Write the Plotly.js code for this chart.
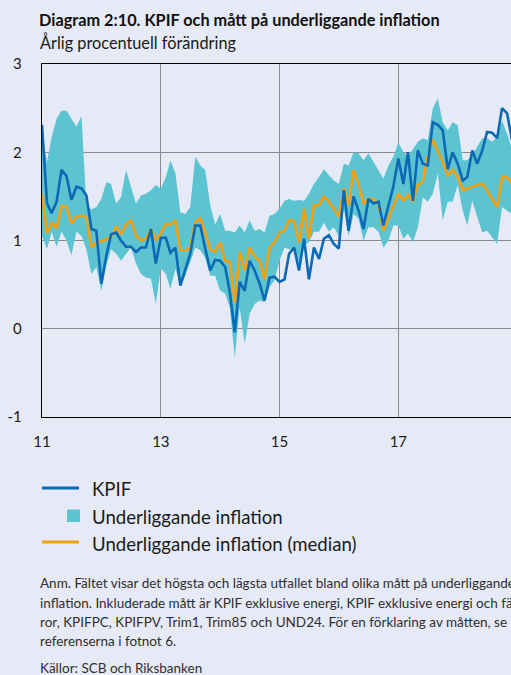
<!DOCTYPE html>
<html>
<head>
<meta charset="utf-8">
<script src="https://cdn.plot.ly/plotly-3.0.1.min.js"></script>
<style>
html, body { margin:0; padding:0; background:#e6eaf6; overflow:hidden; width:511px; height:675px; }
#chart { width:600px; height:675px; }
</style>
</head>
<body>
<div id="chart"></div>
<script>
// ---------- DATA (monthly, Jan 2011 onward) ----------
const startYear = 2011;
const kpif = [2.31,1.42,1.31,1.44,1.80,1.73,1.46,1.61,1.59,1.51,1.13,1.11,
  0.51,0.83,1.07,1.09,1.00,0.93,0.93,0.87,0.92,0.92,1.13,0.74,
  1.03,1.03,0.86,0.92,0.49,0.66,0.85,1.17,1.17,0.91,0.66,0.78,
  0.77,0.70,0.42,-0.04,0.53,0.43,0.77,0.66,0.51,0.32,0.58,0.59,
  0.53,0.56,0.85,0.92,0.66,1.02,0.56,0.92,0.79,1.02,1.06,0.96,
  0.91,1.57,1.11,1.50,1.34,1.13,1.47,1.42,1.44,1.17,1.40,1.61,
  1.93,1.64,2.00,1.45,2.02,1.87,1.85,2.34,2.31,2.25,1.81,2.00,
  1.87,1.68,1.72,2.02,1.87,2.02,2.23,2.22,2.16,2.50,2.44,2.14];
const median = [1.53,1.08,1.20,1.14,1.39,1.38,1.19,1.27,1.28,1.27,0.92,0.98,
  0.99,1.02,1.04,1.16,1.07,1.18,1.23,1.06,1.00,1.02,1.13,1.01,
  1.08,1.19,1.18,1.23,0.89,0.89,0.92,1.21,1.25,1.09,0.90,0.87,
  0.98,0.77,0.76,0.30,0.87,0.66,0.92,0.82,0.77,0.56,0.92,0.98,
  1.09,1.11,1.23,1.22,0.98,1.36,1.02,1.40,1.40,1.50,1.44,1.36,
  1.27,1.59,1.40,1.80,1.64,1.42,1.47,1.47,1.42,1.11,1.25,1.38,
  1.53,1.45,1.52,1.44,1.63,1.66,1.95,2.14,2.02,1.89,1.74,1.80,
  1.72,1.57,1.59,1.61,1.63,1.64,1.57,1.47,1.38,1.72,1.72,1.64];
const upper = [2.25,1.89,2.17,2.38,2.47,2.47,2.38,2.29,2.41,1.40,1.35,1.38,
  1.47,1.66,1.64,1.42,1.49,1.80,1.61,1.42,1.51,1.53,1.57,1.63,
  1.59,1.72,1.91,1.76,1.32,1.30,1.38,1.95,1.85,1.80,1.40,1.18,
  1.30,1.11,1.11,1.09,1.17,1.09,1.23,1.11,1.13,1.09,1.28,1.30,
  1.36,1.45,1.47,1.45,1.46,1.45,1.53,1.64,1.72,1.81,1.74,1.68,
  1.64,1.87,1.85,2.00,1.99,1.91,1.99,1.89,1.78,1.70,1.85,1.95,
  2.11,2.00,1.95,2.04,2.12,2.16,2.14,2.50,2.61,2.34,2.25,2.34,
  2.31,1.91,1.91,1.97,2.06,2.16,2.16,2.12,2.17,2.36,2.21,2.04];
const lower = [1.05,0.90,1.10,0.93,1.10,1.00,0.83,1.10,1.05,0.90,0.62,0.70,
  0.43,0.72,0.90,0.85,0.77,0.85,0.92,0.74,0.62,0.58,0.57,0.28,
  0.68,0.62,0.45,0.68,0.49,0.60,0.77,0.92,0.89,0.80,0.60,0.60,
  0.43,0.40,0.24,-0.33,0.24,-0.17,0.17,0.28,0.32,0.30,0.47,0.55,
  0.77,0.92,0.90,0.90,0.75,0.95,0.98,1.10,1.10,1.20,1.10,1.15,
  1.05,1.35,1.05,1.30,1.25,1.00,1.15,1.15,1.10,0.92,1.00,1.17,
  1.17,1.02,1.08,0.98,1.15,1.49,1.44,1.53,1.76,1.23,1.44,1.44,
  1.63,1.34,1.17,1.45,1.27,1.09,1.11,1.04,0.96,1.38,1.34,1.30];
const tickYears = [2011, 2013, 2015, 2017];
const tickLabels = ['11', '13', '15', '17'];
const rangeEndYear = 2019;
const yTicks = [-1, 0, 1, 2, 3];
const seriesNames = ['KPIF', 'Underliggande inflation', 'Underliggande inflation (median)'];
const titleText = 'Diagram 2:10. KPIF och mått på underliggande inflation';
const subtitleText = 'Årlig procentuell förändring';
const noteLines = [
  'Anm. Fältet visar det högsta och lägsta utfallet bland olika mått på underliggande',
  'inflation. Inkluderade mått är KPIF exklusive energi, KPIF exklusive energi och färskva-',
  'ror, KPIFPC, KPIFPV, Trim1, Trim85 och UND24. För en förklaring av måtten, se',
  'referenserna i fotnot 6.'
];
const sourceText = 'Källor: SCB och Riksbanken';

// ---------- STYLE / GEOMETRY ----------
const FONT = 'Lato, "Open Sans", sans-serif';
const BG = '#e6eaf6';
const BLUE = '#0a6ab4';
const CYAN = '#5cc3d1';
const ORANGE = '#f5a00f';
const FIG_W = 600, FIG_H = 675;
const L = 42, R = 517, T = 64, B = 417;
const PW = R - L, PH = B - T;
const px = p => (p - L) / PW;
const py = p => (B - p) / PH;

const dates = kpif.map((_, i) => {
  const y = startYear + Math.floor(i / 12);
  const m = (i % 12) + 1;
  return y + '-' + String(m).padStart(2, '0') + '-01';
});

const traces = [
  { x: dates, y: lower, type: 'scatter', mode: 'lines', line: { width: 0, color: CYAN },
    hoverinfo: 'skip', showlegend: false },
  { x: dates, y: upper, type: 'scatter', mode: 'lines', fill: 'tonexty', fillcolor: CYAN,
    line: { width: 0, color: CYAN }, name: seriesNames[1], showlegend: false },
  { x: dates, y: median, type: 'scatter', mode: 'lines', line: { width: 2.6, color: ORANGE },
    name: seriesNames[2], showlegend: false },
  { x: dates, y: kpif, type: 'scatter', mode: 'lines', line: { width: 2.6, color: BLUE },
    name: seriesNames[0], showlegend: false }
];

const annotations = [
  { text: subtitleText, xref: 'paper', yref: 'paper', x: px(39), y: py(42), xanchor: 'left', yanchor: 'middle',
    showarrow: false, borderpad: 0, font: { family: FONT, size: 16.3, color: '#1a1a1a' } },
  { text: seriesNames[0], xref: 'paper', yref: 'paper', x: px(91), y: py(489.5), xanchor: 'left', yanchor: 'middle',
    showarrow: false, borderpad: 0, font: { family: FONT, size: 18.6, color: '#1a1a1a' } },
  { text: seriesNames[1], xref: 'paper', yref: 'paper', x: px(91), y: py(516.5), xanchor: 'left', yanchor: 'middle',
    showarrow: false, borderpad: 0, font: { family: FONT, size: 18.6, color: '#1a1a1a' } },
  { text: seriesNames[2], xref: 'paper', yref: 'paper', x: px(91), y: py(543.5), xanchor: 'left', yanchor: 'middle',
    showarrow: false, borderpad: 0, font: { family: FONT, size: 18.6, color: '#1a1a1a' } }
];
const noteY = [582.5, 602.5, 621.5, 641];
noteLines.forEach((t, i) => annotations.push({
  text: t, xref: 'paper', yref: 'paper', x: px(39), y: py(noteY[i]), xanchor: 'left', yanchor: 'middle',
  showarrow: false, borderpad: 0, font: { family: FONT, size: 13.5, color: '#2e2e2e' }
}));
annotations.push({ text: sourceText, xref: 'paper', yref: 'paper', x: px(39), y: py(668), xanchor: 'left', yanchor: 'middle',
  showarrow: false, borderpad: 0, font: { family: FONT, size: 13.5, color: '#2e2e2e' } });

const shapes = [
  { type: 'line', xref: 'paper', yref: 'paper', x0: px(42), x1: px(79), y0: py(488), y1: py(488),
    line: { color: BLUE, width: 3 } },
  { type: 'rect', xref: 'paper', yref: 'paper', x0: px(67), x1: px(80), y0: py(522), y1: py(509.5),
    fillcolor: CYAN, line: { width: 0 } },
  { type: 'line', xref: 'paper', yref: 'paper', x0: px(42), x1: px(79), y0: py(542), y1: py(542),
    line: { color: ORANGE, width: 3 } }
];

const layout = {
  width: FIG_W, height: FIG_H,
  margin: { l: L, r: FIG_W - R, t: T, b: FIG_H - B, pad: 0 },
  paper_bgcolor: BG, plot_bgcolor: BG,
  showlegend: false,
  font: { family: FONT, color: '#1a1a1a' },
  title: { text: titleText, xref: 'container', yref: 'container', x: 39 / FIG_W, xanchor: 'left',
    y: 1 - 20.5 / FIG_H, yanchor: 'middle', font: { family: FONT, size: 16.3, weight: 700, color: '#111111' } },
  xaxis: {
    type: 'date', range: [startYear + '-01-01', rangeEndYear + '-01-01'],
    tickmode: 'array', tickvals: tickYears.map(y => y + '-01-01'), ticktext: tickLabels,
    showgrid: true, gridcolor: '#8a8a8a', gridwidth: 1,
    showline: true, linecolor: '#000000', linewidth: 1.3, mirror: true,
    ticks: '', ticklabelstandoff: 11, zeroline: false,
    tickfont: { family: FONT, size: 15, color: '#1a1a1a' }, fixedrange: true
  },
  yaxis: {
    range: [-1, 3], tickmode: 'array', tickvals: yTicks, ticktext: yTicks.map(String),
    showgrid: true, gridcolor: '#8a8a8a', gridwidth: 1, zeroline: false,
    showline: true, linecolor: '#000000', linewidth: 1.3, mirror: true,
    ticks: '', ticklabelstandoff: 16,
    tickfont: { family: FONT, size: 15, color: '#1a1a1a' }, fixedrange: true
  },
  annotations: annotations,
  shapes: shapes
};

Plotly.newPlot('chart', traces, layout, { displayModeBar: false, staticPlot: true });
</script>
</body>
</html>
